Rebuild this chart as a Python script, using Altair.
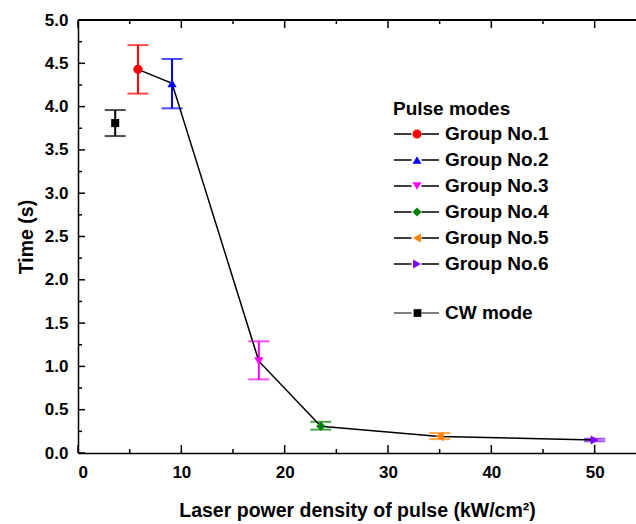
import altair as alt
import pandas as pd

FONT = "Liberation Sans"

# ---------------- data ----------------
groups = ["Group No.1", "Group No.2", "Group No.3", "Group No.4", "Group No.5", "Group No.6"]
group_x = [5.8, 9.1, 17.5, 23.5, 35.0, 50.0]
group_y = [4.43, 4.27, 1.06, 0.31, 0.19, 0.15]
group_lo = [4.15, 3.98, 0.85, 0.27, 0.16, 0.135]
group_hi = [4.71, 4.55, 1.29, 0.36, 0.23, 0.165]
group_colors = ["#ff0000", "#0000ff", "#ff00ff", "#008000", "#ff8000", "#8000ff"]
group_shapes = ["circle", "triangle-up", "triangle-down", "diamond", "triangle-left", "triangle-right"]

cw_label = ["CW mode"]
cw_x = [3.6]
cw_y = [3.81]
cw_lo = [3.66]
cw_hi = [3.96]

x_major = [0, 10, 20, 30, 40, 50]
x_minor = [5, 15, 25, 35, 45]
y_major = [0.0, 0.5, 1.0, 1.5, 2.0, 2.5, 3.0, 3.5, 4.0, 4.5, 5.0]
y_minor = [0.25, 0.75, 1.25, 1.75, 2.25, 2.75, 3.25, 3.75, 4.25, 4.75]

W, H = 558, 433

gdf = pd.DataFrame({"Group": groups, "G2": groups, "x": group_x, "y": group_y,
                    "lo": group_lo, "hi": group_hi})
cdf = pd.DataFrame({"Label": cw_label, "L2": cw_label, "x": cw_x, "y": cw_y,
                    "lo": cw_lo, "hi": cw_hi})

xs = alt.Scale(domain=[0, 54], nice=False, zero=False)
ys = alt.Scale(domain=[0, 5], nice=False)
xaxis = alt.Axis(values=x_major, ticks=False, grid=False, labelPadding=11, titlePadding=21,
                 labelFontSize=17, titleFontSize=19.5)
yaxis = alt.Axis(values=y_major, format=".1f", ticks=False, grid=False, labelPadding=10,
                 titlePadding=8, labelFontSize=17, titleFontSize=19.5)
XT = "Laser power density of pulse (kW/cm²)"
YT = "Time (s)"


def X(f):
    return alt.X(f"{f}:Q", scale=xs, axis=xaxis, title=XT)


def Y(f):
    return alt.Y(f"{f}:Q", scale=ys, axis=yaxis, title=YT)


common = dict(orient="none", legendX=315, padding=0, labelFont=FONT, labelFontSize=19,
              labelFontWeight="bold", titleFont=FONT, titleFontSize=19,
              titleFontWeight="bold", rowPadding=6, titlePadding=6, labelOffset=19)
# legend line segment (two thin filled bars either side of the marker)
LINE_THICK = ("M-4.5,-0.15L-1.0,-0.15L-1.0,0.15L-4.5,0.15Z "
              "M1.0,-0.15L4.5,-0.15L4.5,0.15L1.0,0.15Z")
LINE_THIN = ("M-4.5,-0.1L-1.0,-0.1L-1.0,0.1L-4.5,0.1Z "
             "M1.0,-0.1L4.5,-0.1L4.5,0.1L1.0,0.1Z")

L1 = alt.Legend(**common, legendY=79.5, title="Pulse modes", labelColor="black",
                titleColor="black", symbolSize=100, symbolOffset=14, symbolOpacity=1,
                symbolStrokeWidth=0, symbolFillColor="black")
L2 = alt.Legend(**common, legendY=79.5, title="Pulse modes", labelColor="transparent",
                titleColor="transparent", symbolSize=80, symbolOffset=14.5, symbolStrokeWidth=0)
L3 = alt.Legend(**common, legendY=283.5, title=None, labelColor="transparent",
                symbolSize=60, symbolOffset=15, symbolStrokeWidth=0)
L4 = alt.Legend(**common, legendY=283.5, title=None, labelColor="black",
                symbolSize=100, symbolOffset=14, symbolOpacity=1,
                symbolStrokeWidth=0, symbolFillColor="#222222")

# ---------------- frame ticks (inward) ----------------
xmaj_df = pd.DataFrame({"v": x_major})
xmin_df = pd.DataFrame({"v": x_minor})
ymaj_df = pd.DataFrame({"v": y_major})
ymin_df = pd.DataFrame({"v": y_minor})

tick_layers = [
    alt.Chart(xmaj_df).mark_rule(color="black", strokeWidth=1.5).encode(x=X("v"), y=alt.value(H), y2=alt.value(H - 8)),
    alt.Chart(xmin_df).mark_rule(color="black", strokeWidth=1.5).encode(x=X("v"), y=alt.value(H), y2=alt.value(H - 4)),
    alt.Chart(xmaj_df).mark_rule(color="black", strokeWidth=1.5).encode(x=X("v"), y=alt.value(0), y2=alt.value(8)),
    alt.Chart(xmin_df).mark_rule(color="black", strokeWidth=1.5).encode(x=X("v"), y=alt.value(0), y2=alt.value(4)),
    alt.Chart(ymaj_df).mark_rule(color="black", strokeWidth=1.5).encode(y=Y("v"), x=alt.value(0), x2=alt.value(7)),
    alt.Chart(ymin_df).mark_rule(color="black", strokeWidth=1.5).encode(y=Y("v"), x=alt.value(0), x2=alt.value(4)),
    alt.Chart(xmaj_df).mark_rule(color="black", strokeWidth=1.5).encode(x=alt.value(0), x2=alt.value(W), y=alt.value(0)),
]

# ---------------- pulse groups ----------------
gstroke = alt.Stroke("Group:N", scale=alt.Scale(domain=groups, range=group_colors), legend=None)
gfill = alt.Fill("Group:N", scale=alt.Scale(domain=groups, range=group_colors), legend=None)

g_err = alt.Chart(gdf).mark_rule(strokeWidth=2).encode(x=X("x"), y=Y("lo"), y2="hi", stroke=gstroke)
g_cap_lo = alt.Chart(gdf).mark_tick(orient="horizontal", size=21, thickness=2).encode(x=X("x"), y=Y("lo"), fill=gfill)
g_cap_hi = alt.Chart(gdf).mark_tick(orient="horizontal", size=21, thickness=2).encode(x=X("x"), y=Y("hi"), fill=gfill)
g_line = alt.Chart(gdf).mark_line(color="black", strokeWidth=1.5).encode(x=X("x"), y=Y("y"))
g_pts = alt.Chart(gdf).mark_point(filled=True, size=85, opacity=1).encode(
    x=X("x"), y=Y("y"),
    color=alt.Color("Group:N", scale=alt.Scale(domain=groups, range=group_colors), legend=L2),
    shape=alt.Shape("Group:N", scale=alt.Scale(domain=groups, range=group_shapes), legend=L2),
)
group_layer = alt.layer(g_err, g_cap_lo, g_cap_hi, g_line, g_pts)

# legend-only layer: black line segments for the pulse groups (marks themselves invisible)
g_leg = alt.Chart(gdf).mark_point(filled=True, color="black", opacity=0, size=100).encode(
    x=X("x"), y=Y("y"),
    shape=alt.Shape("G2:N", scale=alt.Scale(domain=groups, range=[LINE_THICK] * len(groups)), legend=L1),
)

# ---------------- CW mode ----------------
c_err = alt.Chart(cdf).mark_rule(strokeWidth=2, color="black").encode(x=X("x"), y=Y("lo"), y2="hi")
c_cap_lo = alt.Chart(cdf).mark_tick(orient="horizontal", size=21, thickness=2, color="black").encode(x=X("x"), y=Y("lo"))
c_cap_hi = alt.Chart(cdf).mark_tick(orient="horizontal", size=21, thickness=2, color="black").encode(x=X("x"), y=Y("hi"))
c_pts = alt.Chart(cdf).mark_point(filled=True, size=65, opacity=1, color="black").encode(
    x=X("x"), y=Y("y"),
    shape=alt.Shape("Label:N", scale=alt.Scale(domain=cw_label, range=["square"]), legend=L3),
)
cw_layer = alt.layer(c_err, c_cap_lo, c_cap_hi, c_pts)

c_leg = alt.Chart(cdf).mark_point(filled=True, color="black", opacity=0, size=100).encode(
    x=X("x"), y=Y("y"),
    shape=alt.Shape("L2:N", scale=alt.Scale(domain=cw_label, range=[LINE_THIN]), legend=L4),
)

chart = (
    alt.layer(*tick_layers, g_leg, c_leg, group_layer, cw_layer)
    .resolve_scale(shape="independent", color="independent")
    .properties(width=W, height=H, autosize=alt.AutoSizeParams(type="none"),
                padding={"left": 78, "top": 20, "right": 0, "bottom": 71})
    .configure_view(stroke=None)
    .configure_axis(domainColor="black", domainWidth=1.5, grid=False, labelColor="black",
                    titleColor="black", labelFont=FONT, titleFont=FONT,
                    labelFontWeight="bold", titleFontWeight="bold")
)

chart.save("out.html", embed_options={"renderer": "svg", "actions": False})
